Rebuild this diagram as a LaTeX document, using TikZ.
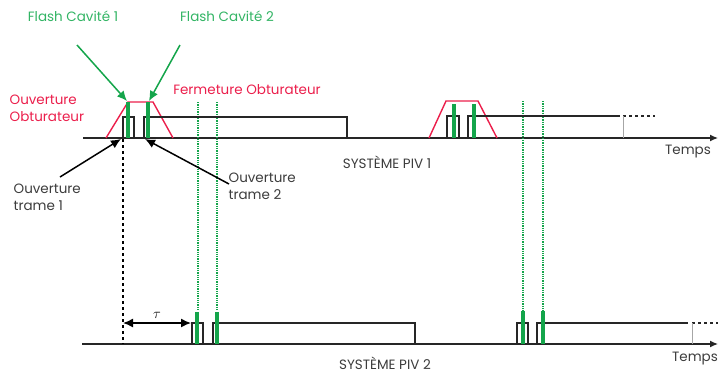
\documentclass[tikz,border=0pt]{standalone}
\usepackage{fontspec}
\setmainfont{Poppins}
\usetikzlibrary{arrows.meta,positioning}
\definecolor{flashcolor}{RGB}{20,165,75}
\definecolor{flashtext}{RGB}{50,180,100}
\definecolor{obtcolor}{RGB}{235,30,75}
\definecolor{labelcolor}{RGB}{60,60,60}

\begin{document}
\begin{tikzpicture}[x=1pt,y=-1pt, line width=1.3pt,
    every node/.style={font=\fontsize{13.5}{17}\selectfont, text=labelcolor, inner sep=1pt},
    pulse/.style={draw=black!85},
    flash/.style={draw=flashcolor, line width=3.5pt},
    trig/.style={draw=flashcolor, densely dotted, line width=1.3pt},
    shutter/.style={draw=obtcolor, line width=1.4pt},
    axis/.style={draw=black!85, -{Latex[length=8pt,width=7pt]}}]
        \useasboundingbox (0,0) rectangle (718,376);

        % labels
        \node[text=flashtext] (flashA) at (73,16) {Flash Cavité 1};
        \node[text=flashtext] (flashB) at (227,16) {Flash Cavité 2};
        \node[text=obtcolor,align=left,anchor=west] (ouvObt) at (8,108) {Ouverture\\Obturateur};
        \node[text=obtcolor] (fermObt) at (247,90) {Fermeture Obturateur};
        \node[align=left,anchor=west] (trameA) at (12,197) {Ouverture\\trame 1};
        \node[align=left,anchor=west] (trameB) at (227,186) {Ouverture\\trame 2};
        \node (sysA) at (387,162) {SYSTÈME PIV 1};
        \node[anchor=base,text depth=0pt,inner sep=0pt] (sysB) at (385,369) {SYSTÈME PIV 2};
        \node (tempsA) at (688,152) {Temps};
        \node (tempsB) at (695,359) {Temps};

        % time axes
        \coordinate (axA0) at (83,138);
        \coordinate (axA1) at (718,138);
        \coordinate (axB0) at (82,344);
        \coordinate (axB1) at (718,344);
        \draw[axis] (axA0) -- (axA1);
        \draw[axis] (axB0) -- (axB1);

        % shutter (system 1)
        \draw[shutter] (106,138) -- (128,102) -- (153,102) -- (173,138);
        \draw[shutter] (429,138) -- (446,101) -- (478,101) -- (497,138);

        % trigger lines
        \foreach \x/\y in {198/102, 217/102, 523/101, 543/101}
          \draw[trig] (\x,\y) -- (\x,311);

        % frames system 1
        \draw[pulse] (123,138) -- (123,117) -- (134,117) -- (134,138);
        \draw[pulse] (144,138) -- (144,117) -- (347,117) -- (347,138);
        \draw[pulse] (447,138) -- (447,116) -- (459,116) -- (459,138);
        \draw[pulse] (468,138) -- (468,116) -- (620,116);
        \draw[pulse,dashed] (623,116) -- (655,116);
        \draw[black!35,line width=0.6pt] (623,116) -- (623,138);

        % frames system 2
        \draw[pulse] (192,344) -- (192,323) -- (203,323) -- (203,344);
        \draw[pulse] (213,344) -- (213,323) -- (415,323) -- (415,344);
        \draw[pulse] (517,344) -- (517,323) -- (528,323) -- (528,344);
        \draw[pulse] (537,344) -- (537,323) -- (688,323);
        \draw[pulse,dashed] (692,323) -- (718,323);
        \draw[black!35,line width=0.6pt] (692,323) -- (692,344);

        % flashes
        \foreach \x/\y/\z in {128/102/138, 148/102/138, 454/104/138, 474/104/138,
                              197/312/344, 217/312/344, 523/311/344, 543/311/344}
          \draw[flash] (\x,\y) -- (\x,\z);

        % delay between the two systems
        \coordinate (delA) at (123,139);
        \coordinate (delB) at (123,344);
        \draw[black,dashed,line width=1.3pt] (delA) -- (delB);
        \coordinate (tauA) at (123,323);
        \coordinate (tauB) at (191,323);
        \draw[black,line width=1.4pt,{Latex[length=10pt,width=9pt]}-{Latex[length=10pt,width=9pt]}] (tauA) -- (tauB)
          node[midway,above=3pt,text=black] (tau) {$\tau$};

        % pointers
        \coordinate (fA0) at (77,45);
        \coordinate (fA1) at (127,101);
        \coordinate (fB0) at (180,45);
        \coordinate (fB1) at (149,101);
        \draw[flashcolor,line width=1.5pt,-{Latex[length=10pt,width=9pt]}] (fA0) -- (fA1);
        \draw[flashcolor,line width=1.5pt,-{Latex[length=10pt,width=9pt]}] (fB0) -- (fB1);
        \coordinate (tA0) at (60,177);
        \coordinate (tA1) at (121,139);
        \coordinate (tB0) at (229,184);
        \coordinate (tB1) at (145,139);
        \draw[black,line width=1.5pt,-{Latex[length=10pt,width=9pt]}] (tA0) -- (tA1);
        \draw[black,line width=1.5pt,-{Latex[length=10pt,width=9pt]}] (tB0) -- (tB1);
      \end{tikzpicture}
\end{document}
